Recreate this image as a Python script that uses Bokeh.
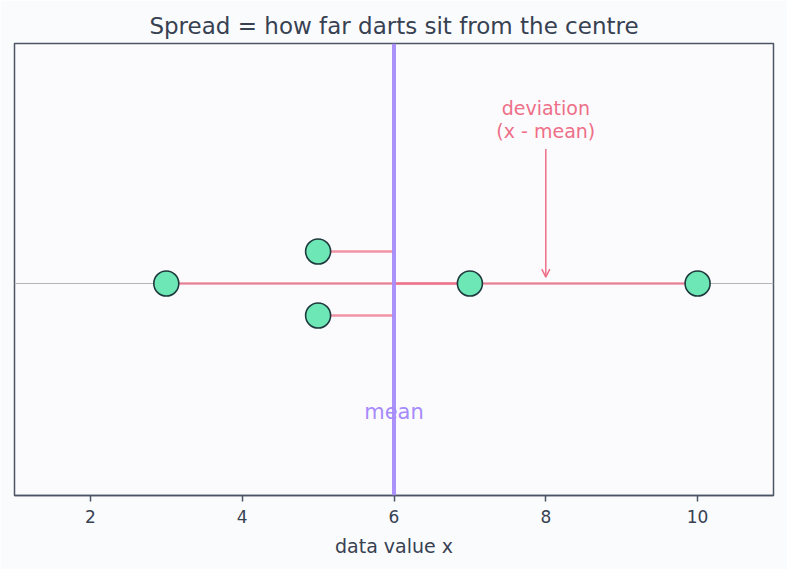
from bokeh.plotting import figure
from bokeh.models import Range1d, Span, Label, Arrow, OpenHead, ColumnDataSource
from bokeh.embed import file_html
from bokeh.resources import INLINE

values = [3, 5, 5, 7, 10]
offsets = [0.0, 0.1, -0.1, 0.0, 0.0]
mean_value = sum(values) / len(values)
x_ticks = [2, 4, 6, 8, 10]
title_text = "Spread = how far darts sit from the centre"
x_label = "data value x"

FONT = "DejaVu Sans"
TXT = "#374151"
PINK = "#ee6f87"
PURPLE = "#a78bfa"

p = figure(width=787, height=569, output_backend="svg", toolbar_location=None,
           x_range=Range1d(1, 11), y_range=Range1d(-0.6625, 0.75),
           min_border_left=14, min_border_right=14, min_border_top=43, min_border_bottom=74)
p.background_fill_color = "#fbfbfe"
p.border_fill_color = "#fafbfd"
p.outline_line_color = "#4b5563"
p.outline_line_width = 1.5

p.title.text = title_text
p.title.align = "center"
p.title.text_font = FONT
p.title.text_font_size = "23px"
p.title.text_font_style = "normal"
p.title.text_color = TXT
p.title.standoff = 10

p.xgrid.visible = False
p.ygrid.visible = False
p.yaxis.visible = False
p.xaxis.ticker = x_ticks
p.xaxis.minor_tick_line_color = None
p.xaxis.axis_line_color = "#4b5563"
p.xaxis.axis_line_width = 1.5
p.xaxis.major_tick_line_color = "#4b5563"
p.xaxis.major_tick_line_width = 1.5
p.xaxis.major_tick_in = 0
p.xaxis.major_tick_out = 6
p.xaxis.major_label_standoff = 8
p.xaxis.major_label_text_font = FONT
p.xaxis.major_label_text_font_size = "17px"
p.xaxis.major_label_text_color = TXT
p.xaxis.axis_label = x_label
p.xaxis.axis_label_text_font = FONT
p.xaxis.axis_label_text_font_size = "19px"
p.xaxis.axis_label_text_font_style = "normal"
p.xaxis.axis_label_text_color = TXT
p.xaxis.axis_label_standoff = 9

# baseline
p.add_layout(Span(location=0, dimension="width", line_color="#b5b5bb", line_width=1.2, level="underlay"))

# deviation segments
src = ColumnDataSource(dict(x0=[mean_value] * len(values), x1=values, y=offsets))
p.segment(x0="x0", y0="y", x1="x1", y1="y", source=src, line_color=PINK, line_width=2.5, line_alpha=0.75)

# mean label then mean line
p.add_layout(Label(x=mean_value, y=-0.4, text="mean", text_align="center", text_baseline="middle",
                   text_font=FONT, text_font_size="21px", text_color=PURPLE))
p.add_layout(Span(location=mean_value, dimension="height", line_color=PURPLE, line_width=4, line_alpha=0.95))

# points
p.scatter(x=values, y=offsets, size=25, fill_color="#6ee7b7", line_color="#1f3a3d", line_width=1.6)

# annotation
p.add_layout(Label(x=8, y=0.547, text="deviation", text_align="center", text_baseline="middle",
                   text_font=FONT, text_font_size="19px", text_color=PINK))
p.add_layout(Label(x=8, y=0.478, text="(x - mean)", text_align="center", text_baseline="middle",
                   text_font=FONT, text_font_size="19px", text_color=PINK))
p.add_layout(Arrow(x_start=8, y_start=0.42, x_end=8, y_end=0.02, line_color=PINK, line_width=1.5,
                   end=OpenHead(size=8, line_color=PINK, line_width=1.5)))

open("out.html", "w").write(file_html(p, INLINE))
